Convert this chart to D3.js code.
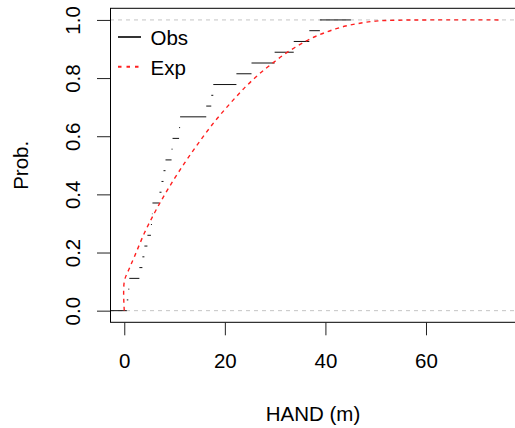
<!DOCTYPE html>
<html>
<head>
<meta charset="utf-8">
<script src="https://cdn.jsdelivr.net/npm/d3@7"></script>
<style>
  body { margin: 0; background: #fff; }
  svg { display: block; }
  text { font-family: "Liberation Sans", Arial, Helvetica, sans-serif; fill: #000; }
</style>
</head>
<body>
<svg id="chart" width="515" height="428"></svg>
<script>
// Sorted HAND observations (m); each one adds 1/27 to the empirical CDF
const handObs = [0.5, 0.8, 1.0, 3.0, 3.6, 4.0, 4.6, 5.3, 5.5, 5.6, 7.0, 7.4, 7.8, 8.2,
                 9.4, 9.6, 10.9, 11.1, 16.3, 17.3, 17.7, 22.3, 25.3, 29.9, 33.7, 36.8, 38.9];

// Fitted exponential model, sampled along HAND
const expHand = [0, 0, 1, 2, 4, 6, 8, 10, 12, 14, 16, 18, 20, 22, 24, 26, 28, 30,
                 32, 34, 36, 38, 40, 42, 44, 46, 48, 50, 52, 56, 60, 74.8];
const expProb = [0, 0.10, 0.145, 0.185, 0.267, 0.336, 0.398, 0.455, 0.508, 0.558, 0.606,
                 0.651, 0.692, 0.731, 0.768, 0.801, 0.831, 0.858, 0.884, 0.906, 0.926,
                 0.943, 0.957, 0.969, 0.979, 0.986, 0.992, 0.996, 0.998, 0.9995, 1.0, 1.0];

const xTicks = [0, 20, 40, 60];
const yTicks = [0, 0.2, 0.4, 0.6, 0.8, 1.0];
const legendLabels = ["Obs", "Exp"];
const xTitle = "HAND (m)";
const yTitle = "Prob.";

const svg = d3.select("#chart");
const FS = 20.5;

const plot = { left: 110, right: 516, top: 8.3, bottom: 322.3 };
const x = d3.scaleLinear().domain([-2.84, 77.9]).range([plot.left, plot.right]);
const y = d3.scaleLinear().domain([-0.04, 1.04]).range([plot.bottom, plot.top]);

svg.append("defs").append("clipPath").attr("id", "plotClip")
  .append("rect")
  .attr("x", plot.left).attr("y", plot.top)
  .attr("width", plot.right - plot.left).attr("height", plot.bottom - plot.top);

const inner = svg.append("g").attr("clip-path", "url(#plotClip)");

// reference lines at probability 0 and 1
inner.selectAll("line.ref")
  .data([0, 1])
  .join("line")
  .attr("class", "ref")
  .attr("x1", plot.left).attr("x2", plot.right)
  .attr("y1", d => y(d)).attr("y2", d => y(d))
  .attr("stroke", "#c4c4c4")
  .attr("stroke-width", 1)
  .attr("stroke-dasharray", "4,4");

// empirical CDF as horizontal steps (stepfun extension on both ends)
const n = handObs.length;
const span = handObs[n - 1] - handObs[0];
const gaps = d3.pairs(handObs, (a, b) => b - a);
const dr = Math.max(0.08 * span, d3.median(gaps));
const lo = handObs[0] - 2 * dr;
const hi = handObs[n - 1] + 2 * dr;
const steps = d3.range(n + 1).map(k => ({
  x0: k === 0 ? lo : handObs[k - 1],
  x1: k === n ? hi : handObs[k],
  p: k / n
}));

inner.selectAll("line.step")
  .data(steps)
  .join("line")
  .attr("class", "step")
  .attr("x1", d => x(d.x0)).attr("x2", d => x(d.x1))
  .attr("y1", d => y(d.p)).attr("y2", d => y(d.p))
  .attr("stroke", "#111")
  .attr("stroke-width", 1);

// exponential model curve
const expLine = d3.line()
  .x(d => x(d[0]))
  .y(d => y(d[1]))
  .curve(d3.curveCatmullRom.alpha(0.5));

inner.append("path")
  .datum(d3.zip(expHand, expProb))
  .attr("d", expLine)
  .attr("fill", "none")
  .attr("stroke", "#ff2020")
  .attr("stroke-width", 1.4)
  .attr("stroke-dasharray", "4,4");

// frame
svg.append("rect")
  .attr("x", plot.left + 0.5).attr("y", plot.top)
  .attr("width", plot.right - plot.left).attr("height", plot.bottom - plot.top)
  .attr("fill", "none")
  .attr("stroke", "#000")
  .attr("stroke-width", 1);

// x axis
const gx = svg.append("g")
  .attr("transform", `translate(0,${plot.bottom})`)
  .call(d3.axisBottom(x).tickValues(xTicks).tickSize(13).tickPadding(18.5).tickFormat(d3.format("d")));
gx.select(".domain").remove();
gx.selectAll(".tick line").attr("stroke", "#222");
gx.selectAll("text").attr("font-size", FS).attr("font-family", null).attr("fill", "#000");

// y axis with labels turned parallel to the axis
const gy = svg.append("g")
  .attr("transform", `translate(${plot.left},0)`)
  .call(d3.axisLeft(y).tickValues(yTicks).tickSize(13).tickFormat(d3.format(".1f")));
gy.select(".domain").remove();
gy.selectAll(".tick line").attr("stroke", "#222");
gy.selectAll("text")
  .attr("font-size", FS).attr("font-family", null).attr("fill", "#000")
  .attr("x", null).attr("dy", null)
  .attr("text-anchor", "middle")
  .attr("transform", "translate(-30.5,0) rotate(-90)");

// axis titles
svg.append("text")
  .attr("x", (plot.left + plot.right) / 2).attr("y", 420.5)
  .attr("text-anchor", "middle")
  .attr("font-size", FS)
  .text(xTitle);

svg.append("text")
  .attr("transform", `translate(28.3,${(plot.top + plot.bottom) / 2}) rotate(-90)`)
  .attr("text-anchor", "middle")
  .attr("font-size", FS)
  .text(yTitle);

// legend
const legendStyles = [
  { stroke: "#000", dash: null, width: 1.6 },
  { stroke: "#ff2020", dash: "3.5,5", width: 2 }
];
const lg = svg.append("g");
legendLabels.forEach((lab, i) => {
  const ly = 37 + i * 29.7;
  lg.append("line")
    .attr("x1", 118).attr("x2", 141)
    .attr("y1", ly).attr("y2", ly)
    .attr("stroke", legendStyles[i].stroke)
    .attr("stroke-width", legendStyles[i].width)
    .attr("stroke-dasharray", legendStyles[i].dash);
  lg.append("text")
    .attr("x", 150.5).attr("y", ly + 8.3)
    .attr("font-size", FS)
    .text(lab);
});
</script>
</body>
</html>
